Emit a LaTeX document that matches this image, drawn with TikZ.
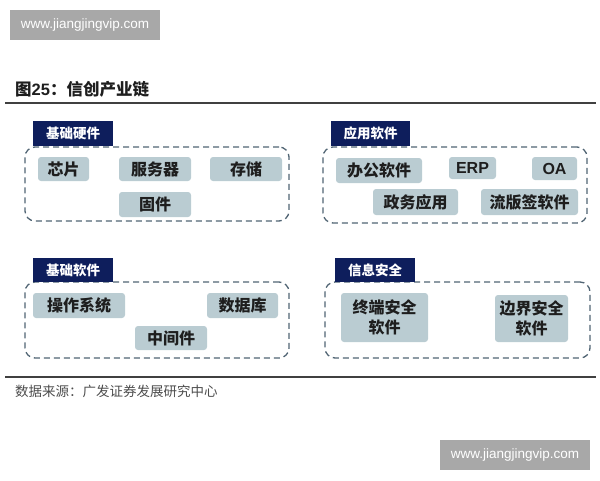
\documentclass[tikz,border=0pt]{standalone}
\usepackage{fontspec}
\setmainfont{Liberation Sans}
\newfontfamily\cjk{Noto Sans CJK SC}
\usetikzlibrary{positioning}
\definecolor{boxfill}{RGB}{186,204,210}
\definecolor{navy}{RGB}{14,30,92}
\definecolor{dashc}{RGB}{80,100,115}
\definecolor{txt}{RGB}{30,30,30}
\definecolor{wm}{RGB}{168,168,168}
\tikzset{
  item/.style={fill=boxfill, rounded corners=3pt, inner sep=0pt, text=txt, font=\cjk\bfseries\fontsize{16}{18}\selectfont, align=center},
  tag/.style={fill=navy, inner sep=0pt, text=white, font=\cjk\bfseries\fontsize{13.5}{15}\selectfont},
  panel/.style={draw=dashc, dashed, dash pattern=on 6pt off 4pt, line width=1.3pt, rounded corners=10pt},
  wmark/.style={fill=wm, inner sep=0pt, text=white, font=\fontsize{13.5}{15}\selectfont},
  rule/.style={draw=black!75, line width=1.6pt}
}
\begin{document}
\begin{tikzpicture}[x=1pt,y=-1pt]
\useasboundingbox (0,0) rectangle (600,480);
% watermarks
\node[wmark, minimum width=150pt, minimum height=30pt] (wm1) at (85,25) {www.jiangjingvip.com};
\node[wmark, minimum width=150pt, minimum height=30pt] (wm2) at (515,455) {www.jiangjingvip.com};
% title
\node[anchor=west, inner sep=0pt, text=txt, font=\cjk\bfseries\fontsize{16.5}{18}\selectfont] (title) at (15,89) {图{\fontspec{Liberation Sans}\bfseries 25}：信创产业链};
\coordinate (r1a) at (5,103); \coordinate (r1b) at (596,103);
\draw[rule] (r1a) -- (r1b);
\coordinate (r2a) at (5,377); \coordinate (r2b) at (596,377);
\draw[rule] (r2a) -- (r2b);
\node[anchor=west, inner sep=0pt, text=black!70, font=\cjk\fontsize{13.5}{15}\selectfont] (src) at (15,391) {数据来源：广发证券发展研究中心};
% panel 1
\node[panel, minimum width=264pt, minimum height=74pt] (p1) at (157,184) {};
\node[tag, minimum width=80pt, minimum height=25pt] (t1) at (73,133.5) {基础硬件};
\node[item, minimum width=51pt, minimum height=24pt] (a1) at (63.5,169) {芯片};
\node[item, minimum width=72pt, minimum height=24pt] (a2) at (155,169) {服务器};
\node[item, minimum width=72pt, minimum height=24pt] (a3) at (246,169) {存储};
\node[item, minimum width=72pt, minimum height=25pt] (a4) at (155,204.5) {固件};
% panel 2
\node[panel, minimum width=264pt, minimum height=76pt] (p2) at (455,185) {};
\node[tag, minimum width=79pt, minimum height=25pt] (t2) at (370.5,133.5) {应用软件};
\node[item, minimum width=86pt, minimum height=25pt] (b1) at (379,170.5) {办公软件};
\node[item, minimum width=47pt, minimum height=22pt, font=\bfseries\fontsize{16}{18}\selectfont] (b2) at (472.5,168) {ERP};
\node[item, minimum width=45pt, minimum height=23pt, font=\bfseries\fontsize{16}{18}\selectfont] (b3) at (554.5,168.5) {OA};
\node[item, minimum width=85pt, minimum height=26pt] (b4) at (415.5,202) {政务应用};
\node[item, minimum width=97pt, minimum height=26pt] (b5) at (529.5,202) {流版签软件};
% panel 3
\node[panel, minimum width=264pt, minimum height=76pt] (p3) at (157,320) {};
\node[tag, minimum width=80pt, minimum height=24pt] (t3) at (73,270) {基础软件};
\node[item, minimum width=92pt, minimum height=25pt] (c1) at (79,305.5) {操作系统};
\node[item, minimum width=71pt, minimum height=25pt] (c2) at (242.5,305.5) {数据库};
\node[item, minimum width=72pt, minimum height=24pt] (c3) at (171,338) {中间件};
% panel 4
\node[panel, minimum width=265pt, minimum height=76pt] (p4) at (457.5,320) {};
\node[tag, minimum width=80pt, minimum height=24pt] (t4) at (375,270) {信息安全};
\node[item, minimum width=87pt, minimum height=49pt, font=\cjk\bfseries\fontsize{16}{20}\selectfont] (d1) at (384.5,317.5) {终端安全\\软件};
\node[item, minimum width=73pt, minimum height=47pt, font=\cjk\bfseries\fontsize{16}{20}\selectfont] (d2) at (531.5,318.5) {边界安全\\软件};
\end{tikzpicture}
\end{document}
